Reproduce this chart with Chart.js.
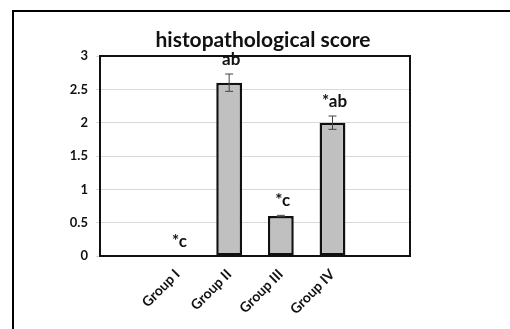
<!DOCTYPE html>
<html>
<head>
<meta charset="utf-8">
<script src="https://cdn.jsdelivr.net/npm/chart.js@4"></script>
<style>
  html, body { margin: 0; padding: 0; background: #fff; }
  #wrap { width: 510px; height: 329px; }
</style>
</head>
<body>
<div id="wrap"><canvas id="score-chart" width="510" height="329"></canvas></div>
<script>
// blank first/last slots like the original sheet
const groups = ['', 'Group I', 'Group II', 'Group III', 'Group IV', ''];
const scores = [null, 0, 2.6, 0.6, 2.0, null];
const errors = [null, 0, 0.13, 0.01, 0.1, null];
const letters = ['', '*c', 'ab', '*c', '*ab', ''];
const yTicks = [0, 0.5, 1, 1.5, 2, 2.5, 3];

const frame = {
  id: 'frame',
  beforeDraw(chart) {
    const ctx = chart.ctx;
    ctx.save();
    ctx.strokeStyle = '#000';
    ctx.lineWidth = 2;
    ctx.beginPath();
    ctx.moveTo(13, 329);
    ctx.lineTo(13, 11);
    ctx.lineTo(510, 11);
    ctx.stroke();
    ctx.restore();
  },
  afterDatasetsDraw(chart) {
    const ctx = chart.ctx;
    const { left, top, right, bottom } = chart.chartArea;
    const x = chart.scales.x, y = chart.scales.y;
    ctx.save();
    // plot box
    ctx.strokeStyle = '#111';
    ctx.lineWidth = 2;
    ctx.strokeRect(left, top, right - left, bottom - top);

    // error bars
    ctx.strokeStyle = '#444';
    ctx.lineWidth = 1;
    scores.forEach((v, i) => {
      if (v == null || !errors[i]) return;
      const px = x.getPixelForValue(i);
      const hi = y.getPixelForValue(v + errors[i]);
      const lo = y.getPixelForValue(v - errors[i]);
      ctx.beginPath();
      ctx.moveTo(px, hi); ctx.lineTo(px, lo);
      ctx.moveTo(px - 4, hi); ctx.lineTo(px + 4, hi);
      ctx.moveTo(px - 4, lo); ctx.lineTo(px + 4, lo);
      ctx.stroke();
    });

    // significance letters
    ctx.fillStyle = '#111';
    ctx.font = 'bold 17px Lato';
    ctx.textAlign = 'center';
    ctx.textBaseline = 'bottom';
    scores.forEach((v, i) => {
      if (v == null || !letters[i]) return;
      const px = x.getPixelForValue(i);
      const py = y.getPixelForValue(v + (errors[i] || 0));
      ctx.fillText(letters[i], px + 2, py - 6);
    });

    // title, centred on the outer box
    ctx.font = 'bold 21px Lato';
    ctx.textBaseline = 'middle';
    ctx.fillText('histopathological score', 263, 40);
    ctx.restore();
  }
};

new Chart(document.getElementById('score-chart'), {
  type: 'bar',
  data: {
    labels: groups,
    datasets: [{
      data: scores,
      backgroundColor: '#c0c0c0',
      borderColor: '#111',
      borderWidth: c => (c.raw ? 2.5 : 0),
      borderSkipped: false,
      categoryPercentage: 1,
      barPercentage: 0.5
    }]
  },
  options: {
    responsive: false,
    animation: false,
    layout: { padding: { left: 0, right: 100, top: 56, bottom: 0 } },
    plugins: {
      legend: { display: false },
      tooltip: { enabled: false }
    },
    scales: {
      x: {
        afterFit: s => { s.height = 73; },
        grid: { display: false },
        border: { display: false },
        ticks: {
          minRotation: 45,
          maxRotation: 45,
          color: '#111',
          padding: 2,
          font: { family: 'Lato', size: 14, weight: 'bold' }
        }
      },
      y: {
        min: 0,
        max: 3,
        afterFit: s => { s.width = 100; },
        afterBuildTicks: s => { s.ticks = yTicks.map(v => ({ value: v })); },
        grid: { color: '#d9d9d9', tickLength: 4 },
        border: { display: false },
        ticks: {
          color: '#111',
          padding: 8,
          callback: v => String(v),
          font: { family: 'Lato', size: 13, weight: 'bold' }
        }
      }
    }
  },
  plugins: [frame]
});
</script>
</body>
</html>
